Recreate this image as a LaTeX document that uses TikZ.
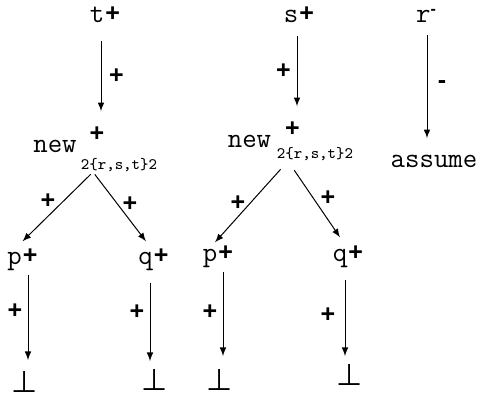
\documentclass[tikz,border=0pt]{standalone}
\usepackage{fontspec}
\newfontfamily\plusfont{Liberation Sans}
\newfontfamily\botfont{DejaVu Sans}
\usepackage{tikz}
\usetikzlibrary{arrows, positioning, calc}
\newcommand{\pls}{{\plusfont\bfseries\fontsize{12.5}{14}\selectfont +}}
\newcommand{\supp}{\kern0.5pt\raisebox{0.8pt}{\pls}}
\newcommand{\supm}{\raisebox{4pt}{{\plusfont\bfseries\fontsize{8}{9}\selectfont -}}}

\begin{document}
\begin{tikzpicture}[x=0.5pt, y=-0.5pt, >=latex,
  lit/.style={anchor=base, inner sep=0pt, font=\ttfamily\fontsize{14}{16}\selectfont},
  sgn/.style={inner sep=0pt, font=\plusfont\bfseries\fontsize{12.5}{14}\selectfont},
  idx/.style={inner sep=0pt, font=\ttfamily\fontsize{8}{9}\selectfont},
  bot/.style={inner sep=0pt, font=\botfont\fontsize{15}{17}\selectfont},
  arr/.style={->, line width=0.5pt}]
\useasboundingbox (0,0) rectangle (478,399);

% first tree: t
\node[lit] (t1) at (105,23) {t\supp};
\node[lit] (w1) at (55,153) {new};
\node[sgn] (n1) at (97,134) {+};
\node[idx] (u1) at (119,165) {2\{r,s,t\}2};
\node[lit] (p1) at (22.5,265) {p\supp};
\node[lit] (q1) at (153.5,265) {q\supp};
\node[bot] (b1) at (24.5,382) {⊥};
\node[bot] (b2) at (154.5,380) {⊥};

\draw[arr, shorten <=8.5pt, shorten >=7.5pt] ([xshift=-2pt]t1.south) -- ([xshift=2pt]n1.north);
\draw[arr, shorten <=1.5pt] ([xshift=-13pt]u1.south) -- ([yshift=3.5pt]p1.north);
\draw[arr, shorten <=1.5pt] ([xshift=-13pt]u1.south) -- ([xshift=-3.75pt,yshift=3.5pt]q1.north);
\draw[arr, shorten <=1.5pt, shorten >=5.5pt] ([xshift=2.75pt]p1.south) -- ([xshift=1.75pt]b1.north);
\draw[arr, shorten <=5.5pt, shorten >=4pt] ([xshift=-1.75pt]q1.south) -- ([xshift=-2.25pt]b2.north);

\node[sgn] (e1) at (116.5,76.5) {+};
\node[sgn] (e2) at (48,201) {+};
\node[sgn] (e3) at (130,204) {+};
\node[sgn] (e4) at (15,311) {+};
\node[sgn] (e5) at (137,312) {+};

% second tree: s
\node[lit] (s2) at (299,23) {s\supp};
\node[lit] (w2) at (249.5,148) {new};
\node[sgn] (n2) at (292.5,129) {+};
\node[idx] (u2) at (315,154) {2\{r,s,t\}2};
\node[lit] (p3) at (218,262) {p\supp};
\node[lit] (q3) at (348,262) {q\supp};
\node[bot] (b3) at (219.5,380) {⊥};
\node[bot] (b4) at (349.5,375) {⊥};

\draw[arr, shorten <=6pt, shorten >=7.5pt] ([xshift=-1pt]s2.south) -- ([xshift=2.25pt]n2.north);
\draw[arr, shorten <=5.5pt] ([xshift=-13.5pt]u2.south) -- ([xshift=-1.5pt,yshift=1.5pt]p3.north);
\draw[arr, shorten <=5.5pt] ([xshift=-13.5pt]u2.south) -- ([xshift=-4pt,yshift=4pt]q3.north);
\draw[arr, shorten <=1.5pt, shorten >=6.5pt] ([xshift=2.5pt]p3.south) -- ([xshift=1.75pt]b3.north);
\draw[arr, shorten <=5.5pt, shorten >=4pt] ([xshift=-1.5pt]q3.south) -- ([xshift=-2.25pt]b4.north);

\node[sgn] (e6) at (283.5,71) {+};
\node[sgn] (e7) at (238,203) {+};
\node[sgn] (e8) at (328,198) {+};
\node[sgn] (e9) at (210,312) {+};
\node[sgn] (e10) at (328,315) {+};

% third: r
\node[lit] (r3) at (426,23) {r\supm};
\node[lit] (a3) at (434,168) {assume};
\draw[arr, shorten <=6pt, shorten >=8.5pt] ([xshift=0.5pt]r3.south) -- ([xshift=-3.5pt]a3.north);
\node[sgn] (e11) at (442,85) {-};
\end{tikzpicture}
\end{document}
